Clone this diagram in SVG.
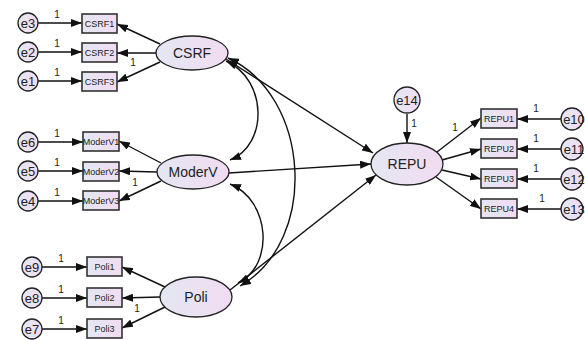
<svg xmlns="http://www.w3.org/2000/svg" width="585" height="340" viewBox="0 0 585 340">
<defs>
<linearGradient id="g" x1="0" y1="0" x2="1" y2="0">
<stop offset="0" stop-color="#e4e7f3"/>
<stop offset="1" stop-color="#f1dcf1"/>
</linearGradient>
<marker id="ah" markerUnits="userSpaceOnUse" markerWidth="11" markerHeight="8" viewBox="0 0 11 8" refX="11" refY="4" orient="auto-start-reverse">
<path d="M0,0 L11,4 L0,8 z" fill="#111"/>
</marker>
</defs>
<style>
.lat{fill:url(#g);stroke:#222;stroke-width:1.3}
.obs{fill:url(#g);stroke:#333;stroke-width:1.6}
.err{fill:url(#g);stroke:#222;stroke-width:1.3}
.c{fill:none;stroke:#111;stroke-width:1.4;marker-end:url(#ah)}
.cv{fill:none;stroke:#111;stroke-width:1.4;marker-start:url(#ah);marker-end:url(#ah)}
text{font-family:"Liberation Sans",Arial,sans-serif;fill:#222;text-anchor:middle}
.tl{font-size:14px}
.to{font-size:9px}
.te{font-size:13px}
.t1{font-size:10px}
</style>
<rect width="585" height="340" fill="#fff"/>

<g id="connectors">
<path class="c" d="M38,23 L82,23"/>
<path class="c" d="M38,52 L82,52"/>
<path class="c" d="M38,81 L82,81"/>
<path class="c" d="M38,142 L83,142"/>
<path class="c" d="M38,171 L83,171"/>
<path class="c" d="M38,201 L83,201"/>
<path class="c" d="M42,267 L87,267"/>
<path class="c" d="M42,298 L87,298"/>
<path class="c" d="M42,329 L87,329"/>
<path class="c" d="M160,44 L117,24"/>
<path class="c" d="M156,53 L117,53"/>
<path class="c" d="M160,62 L117,82"/>
<path class="c" d="M161,163 L119,141"/>
<path class="c" d="M157,172 L119,171"/>
<path class="c" d="M161,181 L119,201"/>
<path class="c" d="M165,287 L122,267"/>
<path class="c" d="M160,297 L122,298"/>
<path class="c" d="M165,307 L122,328"/>
<path class="c" d="M226,59 L373,153"/>
<path class="c" d="M229,173 L371,164"/>
<path class="c" d="M230,290 L376,175"/>
<path class="cv" d="M226,61 C268,80 268,145 230,160"/>
<path class="cv" d="M230,184 C270,200 275,265 238,283"/>
<path class="cv" d="M228,58 C310,95 320,240 240,286"/>
<path class="c" d="M407,114 L407,143"/>
<path class="c" d="M437,152 L481,118"/>
<path class="c" d="M442,160 L481,149"/>
<path class="c" d="M442,170 L481,179"/>
<path class="c" d="M436,177 L481,209"/>
<path class="c" d="M561,119 L517,119"/>
<path class="c" d="M561,149 L517,149"/>
<path class="c" d="M561,179 L517,179"/>
<path class="c" d="M561,209 L517,209"/>
<g class="t1">
<text x="57" y="18">1</text><text x="57" y="47">1</text><text x="57" y="76">1</text>
<text x="57" y="137">1</text><text x="57" y="166">1</text><text x="57" y="196">1</text>
<text x="61" y="262">1</text><text x="61" y="293">1</text><text x="61" y="324">1</text>
<text x="133" y="66">1</text><text x="135" y="186">1</text><text x="137" y="312">1</text>
<text x="414" y="127">1</text><text x="455" y="131">1</text>
<text x="536" y="112">1</text><text x="536" y="142">1</text><text x="536" y="172">1</text><text x="542" y="202">1</text>
</g>
</g>

<g id="CSRF"><ellipse class="lat" cx="192" cy="53" rx="36" ry="17"/><text class="tl" x="192" y="58">CSRF</text></g>
<g id="ModerV"><ellipse class="lat" cx="193" cy="172" rx="36" ry="17"/><text class="tl" x="193" y="177">ModerV</text></g>
<g id="Poli"><ellipse class="lat" cx="196" cy="297" rx="36" ry="20"/><text class="tl" x="196" y="302">Poli</text></g>
<g id="REPU"><ellipse class="lat" cx="407" cy="164" rx="36" ry="21"/><text class="tl" x="407" y="169">REPU</text></g>

<g id="CSRF1"><rect class="obs" x="82" y="14" width="35" height="19"/><text class="to" x="99.5" y="27">CSRF1</text></g>
<g id="CSRF2"><rect class="obs" x="82" y="43" width="35" height="19"/><text class="to" x="99.5" y="56">CSRF2</text></g>
<g id="CSRF3"><rect class="obs" x="82" y="72" width="35" height="19"/><text class="to" x="99.5" y="85">CSRF3</text></g>
<g id="ModerV1"><rect class="obs" x="83" y="132" width="36" height="19"/><text class="to" x="101" y="145">ModerV1</text></g>
<g id="ModerV2"><rect class="obs" x="83" y="162" width="36" height="19"/><text class="to" x="101" y="175">ModerV2</text></g>
<g id="ModerV3"><rect class="obs" x="83" y="191" width="36" height="19"/><text class="to" x="101" y="204">ModerV3</text></g>
<g id="Poli1"><rect class="obs" x="87" y="257" width="35" height="19"/><text class="to" x="104.5" y="270">Poli1</text></g>
<g id="Poli2"><rect class="obs" x="87" y="288" width="35" height="19"/><text class="to" x="104.5" y="301">Poli2</text></g>
<g id="Poli3"><rect class="obs" x="87" y="319" width="35" height="19"/><text class="to" x="104.5" y="332">Poli3</text></g>
<g id="REPU1"><rect class="obs" x="481" y="109" width="36" height="19"/><text class="to" x="499" y="122">REPU1</text></g>
<g id="REPU2"><rect class="obs" x="481" y="139" width="36" height="19"/><text class="to" x="499" y="152">REPU2</text></g>
<g id="REPU3"><rect class="obs" x="481" y="169" width="36" height="19"/><text class="to" x="499" y="182">REPU3</text></g>
<g id="REPU4"><rect class="obs" x="481" y="199" width="36" height="19"/><text class="to" x="499" y="212">REPU4</text></g>

<g id="e3"><circle class="err" cx="28" cy="23" r="10"/><text class="te" x="28" y="28">e3</text></g>
<g id="e2"><circle class="err" cx="28" cy="52" r="10"/><text class="te" x="28" y="57">e2</text></g>
<g id="e1"><circle class="err" cx="28" cy="81" r="10"/><text class="te" x="28" y="86">e1</text></g>
<g id="e6"><circle class="err" cx="28" cy="142" r="10"/><text class="te" x="28" y="147">e6</text></g>
<g id="e5"><circle class="err" cx="28" cy="171" r="10"/><text class="te" x="28" y="176">e5</text></g>
<g id="e4"><circle class="err" cx="28" cy="201" r="10"/><text class="te" x="28" y="206">e4</text></g>
<g id="e9"><circle class="err" cx="32" cy="267" r="10"/><text class="te" x="32" y="272">e9</text></g>
<g id="e8"><circle class="err" cx="32" cy="298" r="10"/><text class="te" x="32" y="303">e8</text></g>
<g id="e7"><circle class="err" cx="32" cy="329" r="10"/><text class="te" x="32" y="334">e7</text></g>
<g id="e14"><circle class="err" cx="407" cy="100" r="13"/><text class="te" x="407" y="105">e14</text></g>
<g id="e10"><circle class="err" cx="572" cy="119" r="11"/><text class="te" x="574" y="124">e10</text></g>
<g id="e11"><circle class="err" cx="572" cy="149" r="11"/><text class="te" x="574" y="154">e11</text></g>
<g id="e12"><circle class="err" cx="572" cy="179" r="11"/><text class="te" x="574" y="184">e12</text></g>
<g id="e13"><circle class="err" cx="572" cy="209" r="11"/><text class="te" x="574" y="214">e13</text></g>
</svg>
